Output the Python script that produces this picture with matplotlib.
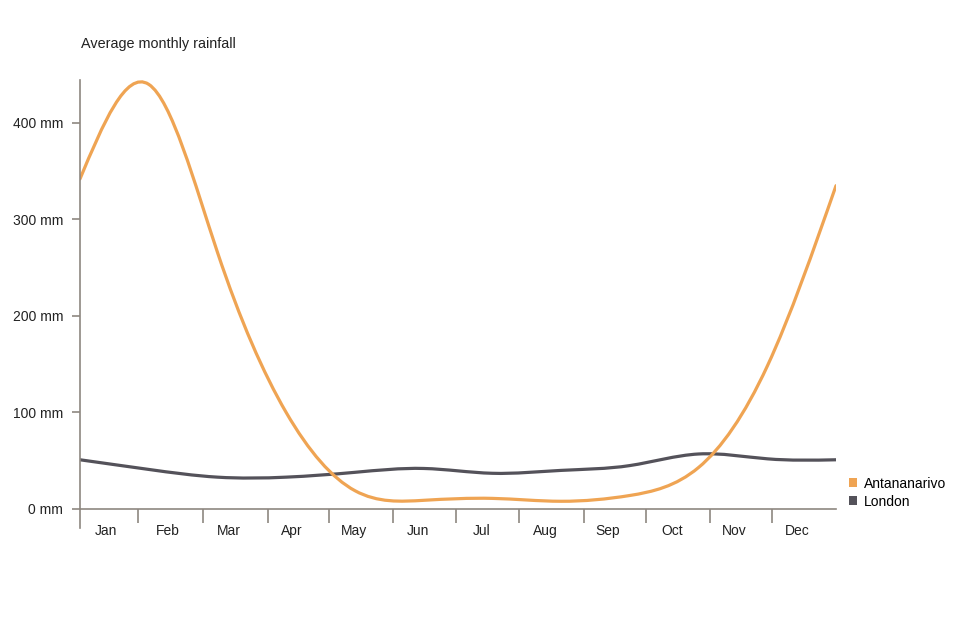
import matplotlib
matplotlib.use("Agg")
import matplotlib.pyplot as plt
import numpy as np
from matplotlib.path import Path
from matplotlib.patches import PathPatch, Patch

plt.rcParams['font.family'] = ['Liberation Sans', 'DejaVu Sans']

months = ['Jan', 'Feb', 'Mar', 'Apr', 'May', 'Jun', 'Jul', 'Aug', 'Sep', 'Oct', 'Nov', 'Dec']
antananarivo = [342, 440, 266, 100, 19, 9, 11, 8, 14, 43, 148, 335]
london = [51, 41, 33, 33, 38, 42, 37, 40, 45, 57, 52, 51]

ORANGE = '#EFA453'
GREY = '#54525A'
AXIS = '#8E8780'


def smooth_path(ys):
    # natural cubic spline (unit spacing) drawn as bezier segments
    y = np.asarray(ys, float)
    n = len(y)
    A = np.zeros((n, n))
    b = np.zeros(n)
    A[0, 0] = A[-1, -1] = 1
    for i in range(1, n - 1):
        A[i, i - 1:i + 2] = [1, 4, 1]
        b[i] = 6 * (y[i + 1] - 2 * y[i] + y[i - 1])
    M = np.linalg.solve(A, b)
    d = np.empty(n)
    d[:-1] = (y[1:] - y[:-1]) - (2 * M[:-1] + M[1:]) / 6
    d[-1] = (y[-1] - y[-2]) + (M[-2] + 2 * M[-1]) / 6
    verts = [(0, y[0])]
    codes = [Path.MOVETO]
    for i in range(n - 1):
        verts += [(i + 1 / 3, y[i] + d[i] / 3), (i + 2 / 3, y[i + 1] - d[i + 1] / 3), (i + 1, y[i + 1])]
        codes += [Path.CURVE4] * 3
    return Path(verts, codes)


fig = plt.figure(figsize=(9.8, 6.18), dpi=100)
ax = fig.add_axes([80 / 980, 1 - 509 / 618, 756 / 980, 429 / 618])

for vals, col in [(london, GREY), (antananarivo, ORANGE)]:
    ax.add_patch(PathPatch(smooth_path(vals), facecolor='none', edgecolor=col,
                           lw=2.3, capstyle='round'))

ax.set_xlim(0, 11)
ax.set_ylim(0, 444.5)

px2x = lambda px: (np.asarray(px) - 80) / 756 * 11
tick_px = [138, 203, 268, 329, 393, 456, 519, 584, 646, 710, 772]
label_px = [105.7, 167.7, 229, 292, 354, 418, 482, 545.7, 608, 672, 734, 797.7]
ax.set_xticks(px2x(tick_px))
ax.set_xticklabels([])
ax.set_xticks(px2x(label_px), minor=True)
ax.set_xticklabels(months, minor=True)
ax.tick_params(axis='x', which='major', length=10, width=1.2, color=AXIS)
ax.tick_params(axis='x', which='minor', length=0, pad=11, labelsize=10, colors='#222222')

ax.set_yticks([0, 100, 200, 300, 400])
ax.set_yticklabels(['0 mm', '100 mm', '200 mm', '300 mm', '400 mm'])
ax.tick_params(axis='y', length=6, width=1.2, color=AXIS, pad=6, labelsize=10, labelcolor='#222222')

for s in ['top', 'right']:
    ax.spines[s].set_visible(False)
for s in ['left', 'bottom']:
    ax.spines[s].set_color(AXIS)
    ax.spines[s].set_linewidth(1.2)
ax.plot([0, 0], [0, -20], color=AXIS, lw=1.2, clip_on=False)

fig.text(81 / 980, 1 - 44 / 618, 'Average monthly rainfall', fontsize=10.4, color='#222222', va='center')

handles = [Patch(facecolor=ORANGE, edgecolor='none'), Patch(facecolor=GREY, edgecolor='none')]
fig.legend(handles, ['Antananarivo', 'London'], loc='upper left',
           bbox_to_anchor=(843 / 980, 1 - 471 / 618), frameon=False,
           fontsize=10, handlelength=0.6, handleheight=0.6, handletextpad=0.5,
           labelspacing=0.3, borderaxespad=0)

fig.savefig('out.png', dpi=100)
